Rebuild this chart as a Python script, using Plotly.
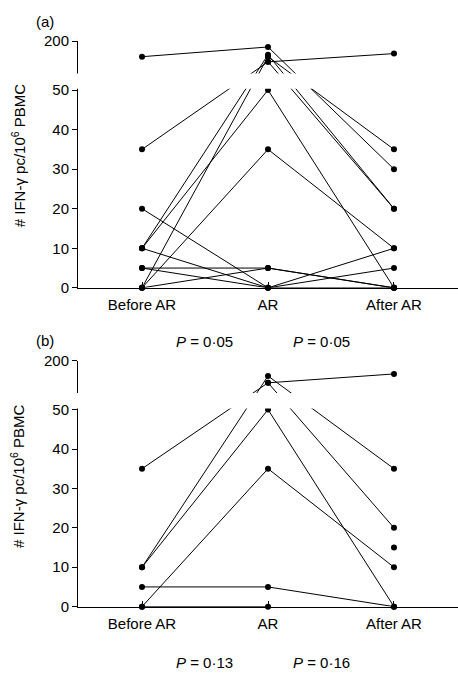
import plotly.graph_objects as go

# ---------------- data ----------------
times = ["Before AR", "AR", "After AR"]

# panel (a): one entry per patient (None = no value)
a_before = [125, 35, 10, 0, 10, 0, 5, 20, 10, 0, 5, None]
a_ar = [172, 100, 134, 125, 50, 35, 5, 0, 0, 5, 0, 101]
a_after = [30, 140, 20, 35, 0, 10, 0, 10, 5, 0, 0, 20]

# panel (b)
b_before = [10, 35, None, 10, 0, 5, 0, None]
b_ar = [127, 94, 94, 50, 35, 5, 0, None]
b_after = [35, 20, 137, 0, 10, 0, None, 15]

lower_ticks = [0, 10, 20, 30, 40, 50]
upper_ticks = [50, 200]
p_values_a = ["0·05", "0·05"]
p_values_b = ["0·13", "0·16"]

# ---------------- broken-axis transform ----------------
BREAK = 50
GAP = 4.5          # gap height in lower-axis units
UPPER_SPAN = 7.85  # height of the 50-200 segment in lower-axis units
UPPER_MAX = 200
TOP = BREAK + GAP + UPPER_SPAN


def brk(v):
    if v is None:
        return None
    if v <= BREAK:
        return v
    return BREAK + GAP + (v - BREAK) * UPPER_SPAN / (UPPER_MAX - BREAK)


W, H = 458, 678
FONT = "Liberation Sans, Arial, sans-serif"


def px(x):
    return x / W


def py(y):
    return 1 - y / H


fig = go.Figure()

panels = [
    (a_before, a_ar, a_after, "x", "y"),
    (b_before, b_ar, b_after, "x2", "y2"),
]
for before, ar, after, xa, ya in panels:
    for b, a, f in zip(before, ar, after):
        fig.add_trace(go.Scatter(
            x=times, y=[brk(b), brk(a), brk(f)],
            mode="lines+markers", xaxis=xa, yaxis=ya,
            line=dict(color="black", width=1),
            marker=dict(color="black", size=6),
            cliponaxis=False, connectgaps=False, hoverinfo="skip",
        ))

tickvals = [brk(v) for v in lower_ticks] + [brk(v) for v in upper_ticks]
ticktext = [str(v) for v in lower_ticks] + [str(v) for v in upper_ticks]

xdom = [px(78), 1]
xcommon = dict(
    domain=xdom, type="category", range=[-0.508, 2.508],
    showline=True, linecolor="black", linewidth=1,
    ticks="inside", ticklen=6, tickcolor="black",
    showgrid=False, zeroline=False,
    tickfont=dict(family=FONT, size=15, color="black"),
    ticklabelstandoff=3,
)
ycommon = dict(
    range=[0, TOP], tickmode="array", tickvals=tickvals, ticktext=ticktext,
    showline=True, linecolor="black", linewidth=1,
    ticks="outside", ticklen=5, tickcolor="black",
    showgrid=False, zeroline=False,
    tickfont=dict(family=FONT, size=15, color="black"),
)

fig.update_layout(
    width=W, height=H, margin=dict(l=0, r=0, t=0, b=0),
    paper_bgcolor="white", plot_bgcolor="white", showlegend=False,
    xaxis=dict(anchor="y", **xcommon),
    xaxis2=dict(anchor="y2", **xcommon),
    yaxis=dict(anchor="x", domain=[py(286), py(33)], **ycommon),
    yaxis2=dict(anchor="x2", domain=[py(613), py(361)], **ycommon),
)

# white band hiding the break region
for xr, yr in [("x", "y"), ("x2", "y2")]:
    fig.add_shape(type="rect", xref="paper", yref=yr,
                  x0=px(74), x1=1, y0=BREAK + 0.3, y1=BREAK + GAP - 0.3,
                  fillcolor="white", line=dict(width=0), layer="above")

ann_font = dict(family=FONT, size=15, color="black")
title = "# IFN-γ pc/10<sup>6</sup> PBMC"
annotations = [
    dict(x=px(45), y=py(13), text="(a)"),
    dict(x=px(45), y=py(340), text="(b)"),
    dict(x=px(18), y=py(150), text=title, textangle=-90),
    dict(x=px(18), y=py(479), text=title, textangle=-90),
    dict(x=px(204), y=py(341), text="<i>P</i> = " + p_values_a[0]),
    dict(x=px(321), y=py(341), text="<i>P</i> = " + p_values_a[1]),
    dict(x=px(204), y=py(670), text="<i>P</i> = " + p_values_b[0]),
    dict(x=px(321), y=py(670), text="<i>P</i> = " + p_values_b[1]),
]
for a in annotations:
    fig.add_annotation(xref="paper", yref="paper", showarrow=False,
                       xanchor="center", yanchor="middle", font=ann_font, **a)

fig.write_html(
    "out.html",
    config={"displayModeBar": False},
    post_script="document.body.style.margin='0';document.body.style.overflow='hidden';",
)
